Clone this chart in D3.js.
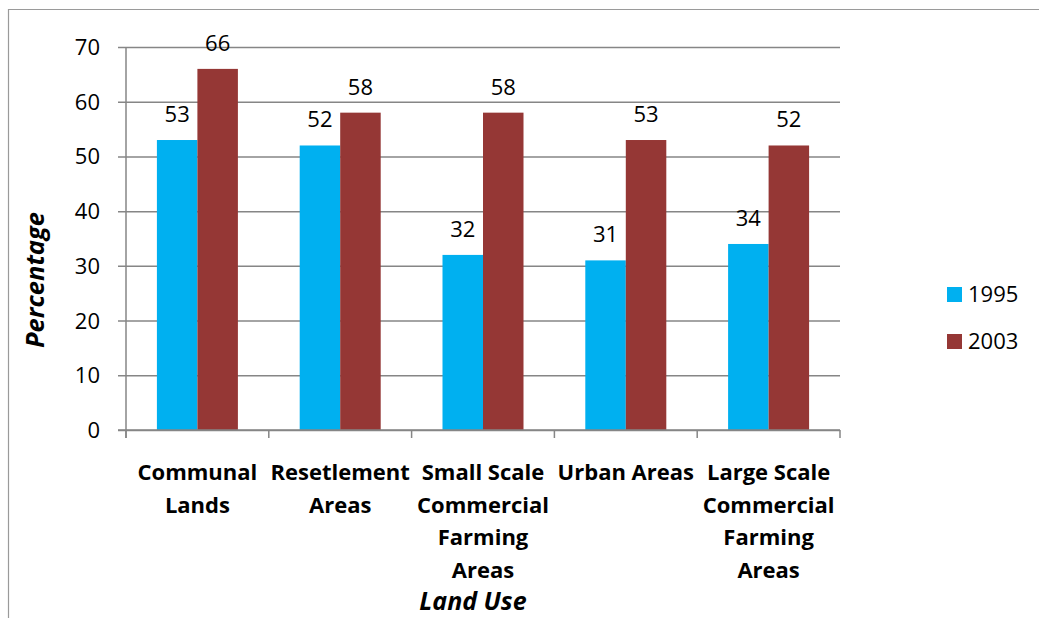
<!DOCTYPE html>
<html>
<head>
<meta charset="utf-8">
<script src="https://cdn.jsdelivr.net/npm/d3@7"></script>
<style>
  html, body { margin: 0; padding: 0; background: #fff; }
  svg { display: block; font-family: "Open Sans", "DejaVu Sans", sans-serif; }
</style>
</head>
<body>
<svg id="chart" width="1039" height="618"></svg>
<script>
const categories = [
  ["Communal", "Lands"],
  ["Resetlement", "Areas"],
  ["Small Scale", "Commercial", "Farming", "Areas"],
  ["Urban Areas"],
  ["Large Scale", "Commercial", "Farming", "Areas"]
];
const seriesNames = ["1995", "2003"];
const values1995 = [53, 52, 32, 31, 34];
const values2003 = [66, 58, 58, 53, 52];
const yTicks = [0, 10, 20, 30, 40, 50, 60, 70];
const colors = ["#00B0F0", "#953735"];

const svg = d3.select("#chart");
const catKeys = categories.map(c => c.join(" "));
const seriesValues = [values1995, values2003];

// frame
svg.append("path").attr("d", "M8.5,618 V9.5 H1039")
  .attr("fill", "none").attr("stroke", "#9a9a9a").attr("stroke-width", 1.2);

const pLeft = 126, pRight = 840, pTop = 47, pBottom = 430;
const y = d3.scaleLinear().domain([0, 70]).range([pBottom, pTop]);
const x0 = d3.scaleBand().domain(catKeys).range([pLeft, pRight]).paddingInner(0).paddingOuter(0);
const x1 = d3.scaleBand().domain(seriesNames).range([0, x0.bandwidth()]).paddingInner(0).paddingOuter(0.763);

// gridlines + y ticks
const yAxis = d3.axisLeft(y).tickValues(yTicks).tickSize(-(pRight - pLeft)).tickPadding(0).tickFormat("");
const gy = svg.append("g").attr("transform", `translate(${pLeft},0)`).call(yAxis);
gy.select(".domain").remove();
gy.selectAll(".tick line").attr("stroke", "#868686").attr("stroke-width", 1.5).attr("x1", -8);

// y tick labels
svg.append("g").selectAll("text").data(yTicks).join("text")
  .attr("x", 100).attr("y", d => y(d) + 8)
  .attr("text-anchor", "end").attr("font-size", 22).attr("fill", "#000")
  .text(d => d);

// y axis line
svg.append("line").attr("x1", pLeft).attr("x2", pLeft).attr("y1", pTop).attr("y2", pBottom + 8)
  .attr("stroke", "#868686").attr("stroke-width", 1.5);

// category ticks
svg.append("g").selectAll("line").data(d3.range(catKeys.length + 1)).join("line")
  .attr("x1", i => pLeft + i * x0.bandwidth()).attr("x2", i => pLeft + i * x0.bandwidth())
  .attr("y1", pBottom).attr("y2", pBottom + 8)
  .attr("stroke", "#868686").attr("stroke-width", 1.5);

// bars
const groups = svg.append("g").selectAll("g").data(catKeys).join("g")
  .attr("transform", d => `translate(${x0(d)},0)`);
groups.selectAll("rect").data((d, i) => seriesNames.map((s, j) => ({s, v: seriesValues[j][i], j})))
  .join("rect")
  .attr("x", d => x1(d.s)).attr("width", x1.bandwidth())
  .attr("y", d => y(d.v)).attr("height", d => y(0) - y(d.v))
  .attr("fill", d => colors[d.j]);
groups.selectAll("text").data((d, i) => seriesNames.map((s, j) => ({s, v: seriesValues[j][i], j})))
  .join("text")
  .attr("x", d => x1(d.s) + x1.bandwidth() / 2).attr("y", d => y(d.v) - 18)
  .attr("text-anchor", "middle").attr("font-size", 22).attr("fill", "#000")
  .text(d => d.v);

// redraw zero line over bars
svg.append("line").attr("x1", pLeft - 8).attr("x2", pRight).attr("y1", pBottom).attr("y2", pBottom)
  .attr("stroke", "#868686").attr("stroke-width", 1.5);

// category labels
const lab = svg.append("g").selectAll("text").data(categories).join("text")
  .attr("text-anchor", "middle").attr("font-size", 22).attr("font-weight", "bold").attr("fill", "#000")
  .attr("transform", (d, i) => `translate(${x0(catKeys[i]) + x0.bandwidth() / 2},480)`);
lab.selectAll("tspan").data(d => d).join("tspan")
  .attr("x", 0).attr("y", (d, i) => i * 32.7).text(d => d);

// axis titles
svg.append("text").attr("x", 473).attr("y", 610).attr("text-anchor", "middle")
  .attr("font-size", 25).attr("font-weight", "bold").attr("font-style", "italic").text("Land Use");
svg.append("text").attr("transform", "translate(44,280) rotate(-90)").attr("text-anchor", "middle")
  .attr("font-size", 25.5).attr("font-weight", "bold").attr("font-style", "italic").text("Percentage");

// legend
const leg = svg.append("g").selectAll("g").data(seriesNames).join("g")
  .attr("transform", (d, i) => `translate(947,${287 + i * 47})`);
leg.append("rect").attr("width", 15).attr("height", 15).attr("fill", (d, i) => colors[i]);
leg.append("text").attr("x", 21).attr("y", 15).attr("font-size", 22).text(d => d);
</script>
</body>
</html>
